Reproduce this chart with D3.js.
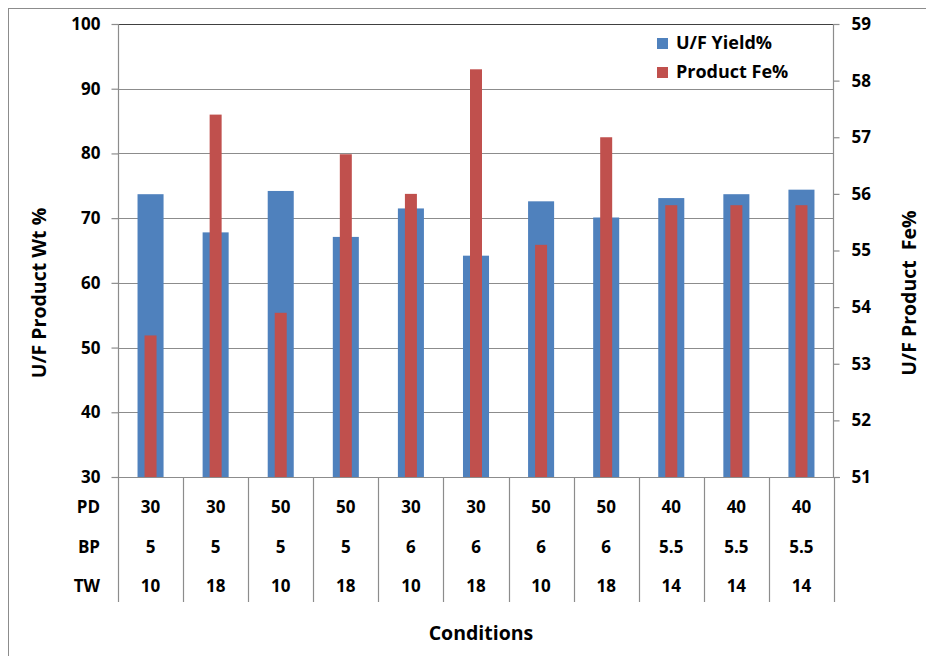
<!DOCTYPE html>
<html>
<head>
<meta charset="utf-8">
<script src="https://cdn.jsdelivr.net/npm/d3@7"></script>
<style>
  html, body { margin: 0; padding: 0; background: #fff; }
  svg text { font-family: "Open Sans", Lato, sans-serif; font-weight: 700; fill: #000; }
</style>
</head>
<body>
<svg id="chart" width="926" height="656"></svg>
<script>
// Test conditions (one column per run)
const conditions = ["C1", "C2", "C3", "C4", "C5", "C6", "C7", "C8", "C9", "C10", "C11"];
const pd = ["30", "30", "50", "50", "30", "30", "50", "50", "40", "40", "40"];
const bp = ["5", "5", "5", "5", "6", "6", "6", "6", "5.5", "5.5", "5.5"];
const tw = ["10", "18", "10", "18", "10", "18", "10", "18", "14", "14", "14"];

// Series
const yieldPct = [73.7, 67.8, 74.2, 67.1, 71.5, 64.2, 72.6, 70.1, 73.1, 73.7, 74.4];
const productFe = [53.5, 57.4, 53.9, 56.7, 56.0, 58.2, 55.1, 57.0, 55.8, 55.8, 55.8];

// Axis ticks
const leftTicks = [30, 40, 50, 60, 70, 80, 90, 100];
const rightTicks = [51, 52, 53, 54, 55, 56, 57, 58, 59];

const blue = "#4F81BD", red = "#C0504D", grid = "#8c8c8c";
const FONT = "'Open Sans', Lato, sans-serif";
const FS = 17;       // ticks and table
const FS_TITLE = 19.5;
const FS_LEGEND = 18;

const svg = d3.select("#chart");
const plot = { left: 118, right: 834, top: 24, bottom: 477 };

// outer frame
svg.append("rect").attr("x", 8.5).attr("y", 8.5).attr("width", 960).attr("height", 700)
  .attr("fill", "none").attr("stroke", "#8c8c8c").attr("stroke-width", 1);

const x = d3.scaleBand().domain(conditions).range([plot.left, plot.right])
  .paddingInner(0.6).paddingOuter(0.3);
const step = x.step();
const yL = d3.scaleLinear().domain([30, 100]).range([plot.bottom, plot.top]);
const yR = d3.scaleLinear().domain([51, 59]).range([plot.bottom, plot.top]);

// horizontal gridlines
svg.append("g").selectAll("line").data(leftTicks.filter(t => t > 30 && t < 100)).join("line")
  .attr("x1", plot.left).attr("x2", plot.right)
  .attr("y1", d => Math.round(yL(d)) + 0.5).attr("y2", d => Math.round(yL(d)) + 0.5)
  .attr("stroke", grid).attr("stroke-width", 1.2);
// top edge of plot
svg.append("line").attr("x1", plot.left).attr("x2", plot.right)
  .attr("y1", Math.round(yL(100)) + 0.5).attr("y2", Math.round(yL(100)) + 0.5)
  .attr("stroke", "#404040").attr("stroke-width", 1.2);

function styleAxis(g) {
  g.select(".domain").remove();
  g.append("line").attr("y1", plot.top).attr("y2", plot.bottom).attr("stroke", grid).attr("stroke-width", 1.2);
  g.selectAll(".tick line").attr("stroke", grid).attr("stroke-width", 1.2);
  g.selectAll(".tick text").attr("font-size", FS).attr("font-family", FONT)
    .attr("font-weight", 700).attr("fill", "#000");
}

// left axis
svg.append("g").attr("transform", `translate(${plot.left + 0.5},0)`)
  .call(d3.axisLeft(yL).tickValues(leftTicks).tickSize(7).tickPadding(11).tickFormat(d3.format("d")))
  .call(styleAxis);

// right axis
svg.append("g").attr("transform", `translate(${plot.right - 0.5},0)`)
  .call(d3.axisRight(yR).tickValues(rightTicks).tickSize(6).tickPadding(12).tickFormat(d3.format("d")))
  .call(styleAxis);

// bars: yield (left axis), Fe (right axis)
const redW = 12;
svg.append("g").selectAll("rect").data(yieldPct).join("rect")
  .attr("x", (d, i) => x(conditions[i]))
  .attr("width", x.bandwidth())
  .attr("y", d => yL(d)).attr("height", d => yL(30) - yL(d))
  .attr("fill", blue);
svg.append("g").selectAll("rect").data(productFe).join("rect")
  .attr("x", (d, i) => x(conditions[i]) + x.bandwidth() / 2 - redW / 2)
  .attr("width", redW)
  .attr("y", d => yR(d)).attr("height", d => yR(51) - yR(d))
  .attr("fill", red);

// baseline
svg.append("line").attr("x1", plot.left).attr("x2", plot.right + 6)
  .attr("y1", plot.bottom + 0.5).attr("y2", plot.bottom + 0.5)
  .attr("stroke", grid).attr("stroke-width", 1.2);

// condition table below the plot
const tableBottom = 602;
const bounds = d3.range(conditions.length + 1).map(i => plot.left + i * step);
svg.append("g").selectAll("line").data(bounds).join("line")
  .attr("x1", d => Math.round(d) + 0.5).attr("x2", d => Math.round(d) + 0.5)
  .attr("y1", plot.bottom).attr("y2", tableBottom)
  .attr("stroke", grid).attr("stroke-width", 1.2);

const rows = [
  { label: "PD", values: pd, y: 507 },
  { label: "BP", values: bp, y: 547 },
  { label: "TW", values: tw, y: 586 }
];
rows.forEach(r => {
  svg.append("text").attr("x", 100).attr("y", r.y).attr("dy", "0.35em")
    .attr("text-anchor", "end").attr("font-size", FS).text(r.label);
  svg.append("g").selectAll("text").data(r.values).join("text")
    .attr("x", (d, i) => x(conditions[i]) + x.bandwidth() / 2)
    .attr("y", r.y).attr("dy", "0.35em")
    .attr("text-anchor", "middle").attr("font-size", FS).text(d => d);
});

// axis titles
svg.append("text").attr("x", 481).attr("y", 640).attr("text-anchor", "middle")
  .attr("font-size", FS_TITLE).text("Conditions");
svg.append("text").attr("transform", "translate(46,293) rotate(-90)")
  .attr("text-anchor", "middle").attr("font-size", FS_TITLE).text("U/F Product Wt %");
svg.append("text").attr("transform", "translate(916,293) rotate(-90)")
  .attr("text-anchor", "middle").attr("font-size", FS_TITLE)
  .style("white-space", "pre").text("U/F Product  Fe%");

// legend
const legend = [
  { name: "U/F Yield%", color: blue, y: 38 },
  { name: "Product Fe%", color: red, y: 67 }
];
const lg = svg.append("g");
legend.forEach(l => {
  lg.append("rect").attr("x", 657).attr("y", l.y).attr("width", 11).attr("height", 11).attr("fill", l.color);
  lg.append("text").attr("x", 676).attr("y", l.y + 11).attr("font-size", FS_LEGEND).text(l.name);
});
</script>
</body>
</html>
